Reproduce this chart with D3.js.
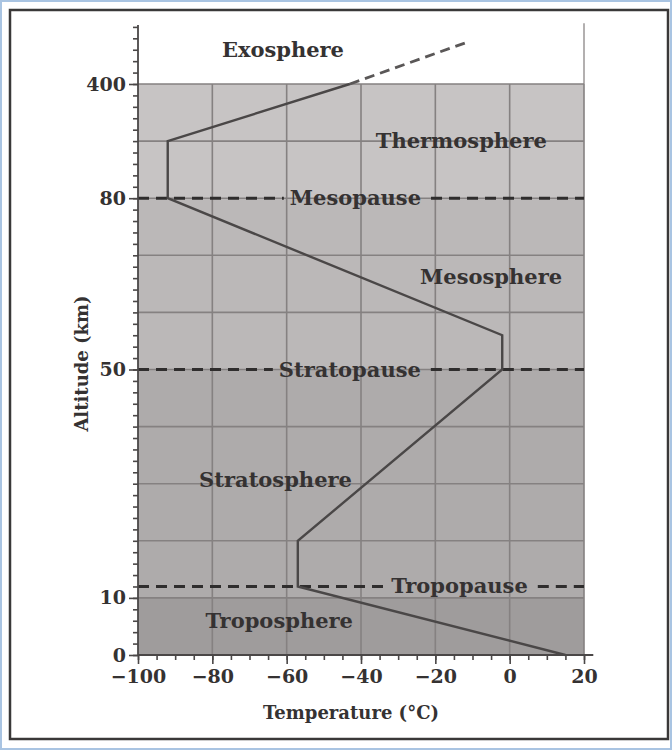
<!DOCTYPE html>
<html>
<head>
<meta charset="utf-8">
<script src="https://cdn.jsdelivr.net/npm/d3@7"></script>
<style>
  body { margin: 0; background: #fff; }
  svg { display: block; }
  text { font-family: "DejaVu Serif", "Liberation Serif", serif; fill: #353232; }
</style>
</head>
<body>
<svg id="chart" width="672" height="750"></svg>
<script>
// Temperature profile of the atmosphere
const altitudeTicks = [0, 10, 50, 80, 400];             // km, labelled on the axis
const temperatureTicks = [-100, -80, -60, -40, -20, 0, 20]; // °C
const gridAltitudes = [10, 20, 30, 40, 50, 60, 70, 80, 240, 400];
const gridTemperatures = [-80, -60, -40, -20, 0];

const layerNames = ["Troposphere", "Stratosphere", "Mesosphere", "Thermosphere"];
const layerBase = [0, 10, 50, 80];
const layerTop = [10, 50, 80, 400];
const layerFill = ["#9f9c9c", "#aeabab", "#bbb8b8", "#c7c4c4"];

const pauseNames = ["Tropopause", "Stratopause", "Mesopause"];
const pauseAltitude = [12, 50, 80];

const profileTemp = [15, -57, -57, -2, -2, -92, -92, -43];
const profileAlt = [0, 12, 20, 50, 56, 80, 240, 400];
const exosphereTemp = [-43, -12];
const exosphereAlt = [400, 515];

// label anchors in data units (temperature, altitude)
const labelAnchor = {
  Exosphere: [-61, 475],
  Thermosphere: [-13, 222],
  Mesosphere: [-5, 65],
  Stratosphere: [-63, 29.5],
  Troposphere: [-62, 4.8],
  Mesopause: [-41.5, 80],
  Stratopause: [-43, 50],
  Tropopause: [-13.5, 12]
};

const svg = d3.select("#chart");
const W = 672, H = 750;

// frame
svg.append("rect").attr("x", 1).attr("y", 1).attr("width", W - 2).attr("height", H - 2)
  .attr("fill", "#fff").attr("stroke", "#a9c4e2").attr("stroke-width", 2);
svg.append("rect").attr("x", 10).attr("y", 10).attr("width", 658).attr("height", 729)
  .attr("fill", "#fff").attr("stroke", "#3a3838").attr("stroke-width", 2.5);

// scales: altitude axis is drawn in equal rows, each labelled span takes a fixed number of rows
const plotLeft = 138, plotRight = 584, plotBottom = 655, rowH = 57.1;
const rowIndex = [0, 1, 5, 8, 10];
const x = d3.scaleLinear().domain([-100, 20]).range([plotLeft, plotRight]);
const y = d3.scaleLinear().domain(altitudeTicks).range(rowIndex.map(r => plotBottom - r * rowH));

const g = svg.append("g");

// right border of the open region above the thermosphere
g.append("line").attr("x1", x(20)).attr("x2", x(20)).attr("y1", y(570)).attr("y2", y(400))
  .attr("stroke", "#9a9696").attr("stroke-width", 1.5);

// layer shading
g.selectAll("rect.layer").data(layerNames).join("rect").attr("class", "layer")
  .attr("x", x(-100)).attr("width", x(20) - x(-100))
  .attr("y", (d, i) => y(layerTop[i]))
  .attr("height", (d, i) => y(layerBase[i]) - y(layerTop[i]))
  .attr("fill", (d, i) => layerFill[i]);

// grid
g.selectAll("line.hgrid").data(gridAltitudes).join("line").attr("class", "hgrid")
  .attr("x1", x(-100)).attr("x2", x(20)).attr("y1", d => y(d)).attr("y2", d => y(d))
  .attr("stroke", "#858181").attr("stroke-width", 1.6);
g.selectAll("line.vgrid").data(gridTemperatures).join("line").attr("class", "vgrid")
  .attr("x1", d => x(d)).attr("x2", d => x(d)).attr("y1", y(400)).attr("y2", y(0))
  .attr("stroke", "#858181").attr("stroke-width", 1.6);
g.append("line").attr("x1", x(20)).attr("x2", x(20)).attr("y1", y(400)).attr("y2", y(0))
  .attr("stroke", "#858181").attr("stroke-width", 1.6);

// layer labels
const labelStyle = sel => sel.attr("text-anchor", "middle").attr("font-size", 21)
  .attr("font-weight", "bold");
const layerLabels = ["Exosphere"].concat(layerNames);
g.selectAll("text.layerLabel").data(layerLabels).join("text").attr("class", "layerLabel")
  .attr("x", d => x(labelAnchor[d][0])).attr("y", d => y(labelAnchor[d][1]))
  .call(labelStyle).text(d => d);

// pause lines, broken around their labels
pauseNames.forEach((name, i) => {
  const yy = y(pauseAltitude[i]);
  const t = g.append("text").attr("x", x(labelAnchor[name][0])).attr("y", yy + 7)
    .call(labelStyle).text(name);
  const bb = t.node().getBBox();
  [[x(-100), bb.x - 6], [bb.x + bb.width + 10, x(20)]].forEach(([a, b]) => {
    g.insert("line", "text").attr("x1", a).attr("x2", b).attr("y1", yy).attr("y2", yy)
      .attr("stroke", "#2f2d2d").attr("stroke-width", 3).attr("stroke-dasharray", "11 7");
  });
});

// temperature profile
const line = d3.line().x(d => x(d[0])).y(d => y(d[1]));
g.append("path").datum(d3.zip(profileTemp, profileAlt)).attr("d", line)
  .attr("fill", "none").attr("stroke", "#4a4747").attr("stroke-width", 2.4);
g.append("path").datum(d3.zip(exosphereTemp, exosphereAlt)).attr("d", line)
  .attr("fill", "none").attr("stroke", "#5a5757").attr("stroke-width", 2.8)
  .attr("stroke-dasharray", "10 6");

// axes
const axisColor = "#4a4747";
const minorAlt = d3.range(0, 80, 2).concat(d3.range(80, 565, 32));
const yMinor = g.append("g").attr("transform", `translate(${plotLeft},0)`)
  .call(d3.axisLeft(y).tickValues(minorAlt).tickSize(5).tickFormat(""));
const yMajor = g.append("g").attr("transform", `translate(${plotLeft},0)`)
  .call(d3.axisLeft(y).tickValues(altitudeTicks).tickSize(9).tickPadding(3));
const minorTemp = d3.range(-100, 21, 5);
const xMinor = g.append("g").attr("transform", `translate(0,${plotBottom})`)
  .call(d3.axisBottom(x).tickValues(minorTemp).tickSize(5).tickFormat(""));
const xMajor = g.append("g").attr("transform", `translate(0,${plotBottom})`)
  .call(d3.axisBottom(x).tickValues(temperatureTicks).tickSize(9).tickPadding(6));
[yMinor, yMajor, xMinor, xMajor].forEach(a => {
  a.select(".domain").remove();
  a.selectAll(".tick line").attr("stroke", axisColor).attr("stroke-width", 1.6);
  a.selectAll(".tick text").attr("font-size", 19).attr("font-weight", "bold")
    .attr("font-family", "DejaVu Serif").attr("fill", "#353232");
});
g.append("line").attr("x1", plotLeft).attr("x2", plotLeft).attr("y1", y(0)).attr("y2", y(565))
  .attr("stroke", axisColor).attr("stroke-width", 1.8);
g.append("line").attr("x1", plotLeft).attr("x2", x(22.5)).attr("y1", y(0)).attr("y2", y(0))
  .attr("stroke", axisColor).attr("stroke-width", 1.8);

// axis titles
svg.append("text").attr("transform", `translate(88,${y(50) - 6}) rotate(-90)`)
  .attr("text-anchor", "middle").attr("font-size", 18).attr("font-weight", "bold")
  .text("Altitude (km)");
svg.append("text").attr("x", (x(-100) + x(20)) / 2 - 10).attr("y", 719)
  .attr("text-anchor", "middle").attr("font-size", 18).attr("font-weight", "bold")
  .text("Temperature (°C)");
</script>
</body>
</html>
